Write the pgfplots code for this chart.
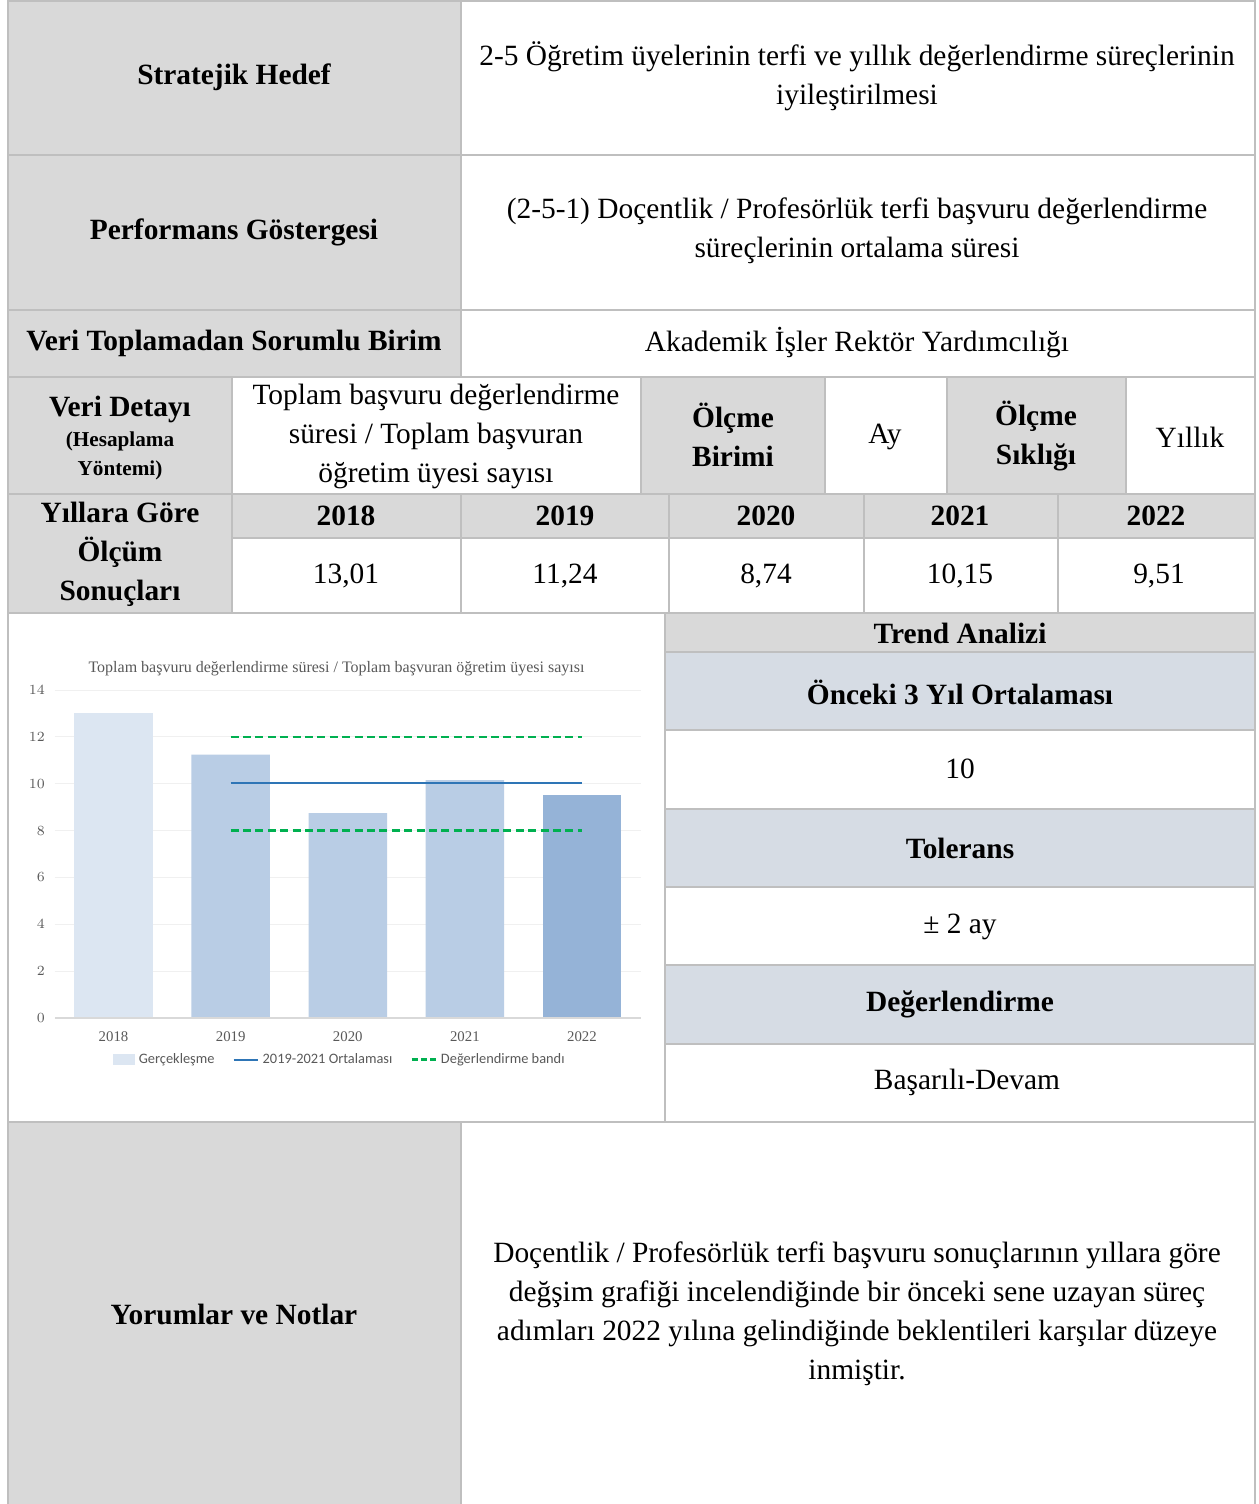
\documentclass[border=0pt]{standalone}
\usepackage{fontspec}
\setmainfont{Liberation Serif}
\newfontfamily\carlito{Carlito}
\usepackage{pgfplots}
\pgfplotsset{compat=1.18}
\definecolor{cellgray}{HTML}{D9D9D9}
\definecolor{cellblue}{HTML}{D6DCE4}
\definecolor{bordergray}{HTML}{BFBFBF}
\definecolor{bar1}{HTML}{DCE6F2}
\definecolor{bar2}{HTML}{B9CDE5}
\definecolor{bar3}{HTML}{95B3D7}
\definecolor{avgblue}{HTML}{2E75B6}
\definecolor{bandgreen}{HTML}{00B050}
\definecolor{txtgray}{HTML}{595959}
\definecolor{gridc}{HTML}{F0F0F0}
\definecolor{axisgray}{HTML}{D9D9D9}
\begin{document}
\begin{tikzpicture}
\begin{scope}[x=0.5pt,y=-0.5pt,
  t/.style={font=\fontsize{14.7}{19.5}\selectfont, align=center, inner sep=0pt},
  b/.style={font=\bfseries\fontsize{14.7}{19.5}\selectfont, align=center, inner sep=0pt}]
\useasboundingbox (0,0) rectangle (1258,1504);
\fill[white] (0,0) rectangle (1258,1504);
% fills
\fill[cellgray] (8,0) rectangle (461,377);
\fill[cellgray] (8,377) rectangle (232,613);
\fill[cellgray] (641,377) rectangle (825,494);
\fill[cellgray] (947,377) rectangle (1126,494);
\fill[cellgray] (232,494) rectangle (1255,538);
\fill[cellgray] (665,613) rectangle (1255,652);
\fill[cellblue] (665,652) rectangle (1255,730);
\fill[cellblue] (665,809) rectangle (1255,887);
\fill[cellblue] (665,965) rectangle (1255,1044);
\fill[cellgray] (8,1122) rectangle (461,1504);
% chart title
\node[font=\fontsize{8}{10}\selectfont, text=txtgray] at (336.5,669) {Toplam başvuru değerlendirme süresi / Toplam başvuran öğretim üyesi sayısı};
% borders
\begin{scope}[bordergray, line width=1pt]
\draw (8,0) -- (8,1504);
\draw (1255,0) -- (1255,1504);
\draw (8,1) -- (1255,1);
\foreach \yy in {155,310,377,494,613,1122} \draw (8,\yy) -- (1255,\yy);
\draw (232,538) -- (1255,538);
\foreach \yy in {652,730,809,887,965,1044} \draw (665,\yy) -- (1255,\yy);
\draw (461,0) -- (461,377);
\draw (232,377) -- (232,613);
\foreach \xx in {641,825,947,1126} \draw (\xx,377) -- (\xx,494);
\foreach \xx in {461,669,864,1058} \draw (\xx,494) -- (\xx,613);
\draw (665,613) -- (665,1122);
\draw (461,1122) -- (461,1504);
\end{scope}
% texts
\node[b] at (234,77) {Stratejik Hedef};
\node[t] at (857,76) {2-5 Öğretim üyelerinin terfi ve yıllık değerlendirme süreçlerinin\\iyileştirilmesi};
\node[b] at (234,232) {Performans Göstergesi};
\node[t] at (857,231) {(2-5-1) Doçentlik / Profesörlük terfi başvuru değerlendirme\\süreçlerinin ortalama süresi};
\node[b] at (234,343) {Veri Toplamadan Sorumlu Birim};
\node[t] at (857,343) {Akademik İşler Rektör Yardımcılığı};
\node[b] at (120,409) {Veri Detayı};
\node[font=\bfseries\fontsize{10.6}{14.5}\selectfont, align=center, inner sep=0pt] at (120,456) {(Hesaplama\\Yöntemi)};
\node[t] at (436,436) {Toplam başvuru değerlendirme\\süresi / Toplam başvuran\\öğretim üyesi sayısı};
\node[b] at (733,435) {Ölçme\\Birimi};
\node[t] at (885,437) {Ay};
\node[b] at (1036,436) {Ölçme\\Sıklığı};
\node[t] at (1190,437) {Yıllık};
\node[b] at (120,554) {Yıllara Göre\\Ölçüm\\Sonuçları};
\node[b] at (346,516) {2018};
\node[b] at (565,516) {2019};
\node[b] at (766,516) {2020};
\node[b] at (960,516) {2021};
\node[b] at (1156,516) {2022};
\node[t] at (346,576) {13,01};
\node[t] at (565,576) {11,24};
\node[t] at (766,576) {8,74};
\node[t] at (960,576) {10,15};
\node[t] at (1159,576) {9,51};
\node[b] at (960,633) {Trend Analizi};
\node[b] at (960,692) {Önceki 3 Yıl Ortalaması};
\node[t] at (960,769) {10};
\node[b] at (960,848) {Tolerans};
\node[t] at (960,927) {± 2 ay};
\node[b] at (960,1004) {Değerlendirme};
\node[t] at (967,1082) {Başarılı-Devam};
\node[b] at (234,1314) {Yorumlar ve Notlar};
\node[t] at (857,1314) {Doçentlik / Profesörlük terfi başvuru sonuçlarının yıllara göre\\değşim grafiği incelendiğinde bir önceki sene uzayan süreç\\adımları 2022 yılına gelindiğinde beklentileri karşılar düzeye\\inmiştir.};
\end{scope}

\begin{axis}[at={(27.5pt,-509pt)}, anchor=south west, scale only axis,
  width=292.75pt, height=164pt,
  xmin=-0.5, xmax=4.5, ymin=0, ymax=14,
  ytick={0,2,...,14}, xtick={0,1,2,3,4},
  xticklabels={2018,2019,2020,2021,2022},
  axis line style={draw=none},
  major tick length=0pt, tick style={draw=none},
  ymajorgrids, grid style={gridc, line width=0.5pt},
  tick label style={font=\fontsize{7.4}{9}\selectfont, text=txtgray},
  yticklabel style={xshift=-1.5pt},
  xticklabel style={yshift=-3.5pt},
  legend style={at={(0.488,-0.127)}, anchor=center, draw=none, fill=none,
    legend columns=3, font=\carlito\fontsize{7.2}{9}\selectfont, text=txtgray,
    /tikz/every even column/.append style={column sep=7pt}},
  legend cell align=left,
  clip=false]
\addplot[ybar, bar width=39.25pt, bar shift=0pt, fill=bar1, draw=none,
  legend image code/.code={\fill[bar1] (0pt,-2.6pt) rectangle (11pt,2.6pt);}]
  coordinates {(0,13.01)};
\addplot[ybar, bar width=39.25pt, bar shift=0pt, fill=bar2, draw=none, forget plot]
  coordinates {(1,11.24) (2,8.74) (3,10.15)};
\addplot[ybar, bar width=39.25pt, bar shift=0pt, fill=bar3, draw=none, forget plot]
  coordinates {(4,9.51)};
\addplot[avgblue, line width=0.8pt, no marks,
  legend image code/.code={\draw[draw=avgblue, line width=1.1pt] (0pt,0pt) -- (12pt,0pt);}]
  coordinates {(1,10.04) (4,10.04)};
\addplot[bandgreen, line width=1.3pt, no marks, dash pattern=on 4pt off 2.2pt,
  legend image code/.code={\draw[draw=bandgreen, line width=1.3pt, dash pattern=on 3pt off 1.6pt] (0pt,0pt) -- (12pt,0pt);}]
  coordinates {(1,12) (4,12)};
\addplot[bandgreen, line width=1.3pt, no marks, dash pattern=on 4pt off 2.2pt, forget plot]
  coordinates {(1,8) (4,8)};
\addplot[axisgray, line width=0.8pt, no marks, forget plot] coordinates {(-0.5,0) (4.5,0)};
\legend{Gerçekleşme, 2019-2021 Ortalaması, Değerlendirme bandı}
\end{axis}
\end{tikzpicture}
\end{document}
